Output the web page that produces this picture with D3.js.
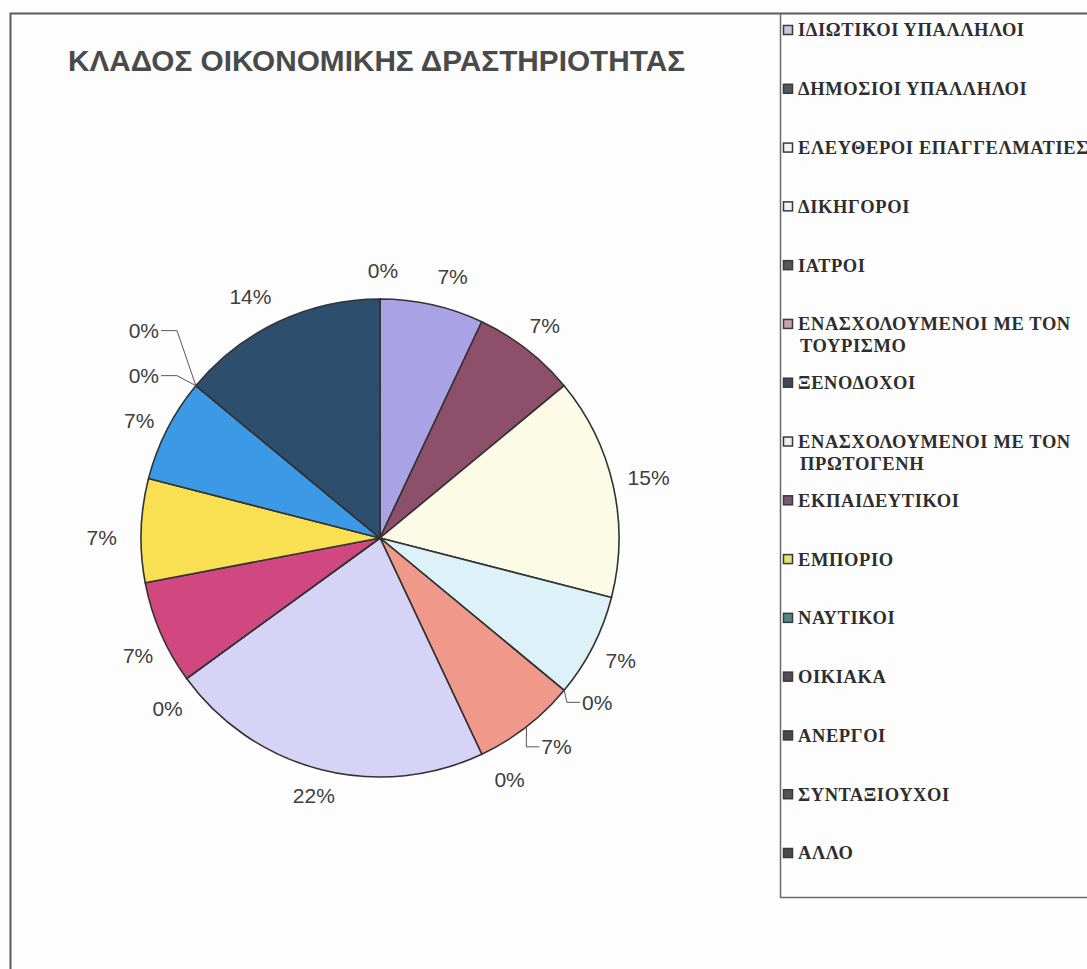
<!DOCTYPE html>
<html>
<head>
<meta charset="utf-8">
<script src="https://cdn.jsdelivr.net/npm/d3@7/dist/d3.min.js"></script>
<style>
  html, body { margin: 0; padding: 0; background: #fcfdfc; }
  svg { display: block; }
</style>
</head>
<body>
<svg id="chart" width="1087" height="969"></svg>
<script>
// Chart title
const title = "ΚΛΑΔΟΣ ΟΙΚΟΝΟΜΙΚΗΣ ΔΡΑΣΤΗΡΙΟΤΗΤΑΣ";

// Pie slices, clockwise from 12 o'clock (percent shares)
const sliceValues = [7, 7, 15, 7, 0, 7, 0, 22, 0, 7, 7, 7, 0, 0, 14, 0];
const sliceColors = [
  "#a9a3e6", "#8d4f69", "#fbfbe6", "#dcf2f8", "#6a3a6a", "#f0988a",
  "#2f6fc0", "#d6d4f6", "#1c2c6c", "#d0487f", "#f8e052", "#3c99e6",
  "#7a3a7a", "#7a2a2a", "#2e4e6e", "#3040c0"
];

// Legend entries and their swatch colours
const legendLabels = [
  ["ΙΔΙΩΤΙΚΟΙ ΥΠΑΛΛΗΛΟΙ"],
  ["ΔΗΜΟΣΙΟΙ ΥΠΑΛΛΗΛΟΙ"],
  ["ΕΛΕΥΘΕΡΟΙ ΕΠΑΓΓΕΛΜΑΤΙΕΣ"],
  ["ΔΙΚΗΓΟΡΟΙ"],
  ["ΙΑΤΡΟΙ"],
  ["ΕΝΑΣΧΟΛΟΥΜΕΝΟΙ ΜΕ ΤΟΝ", "ΤΟΥΡΙΣΜΟ"],
  ["ΞΕΝΟΔΟΧΟΙ"],
  ["ΕΝΑΣΧΟΛΟΥΜΕΝΟΙ ΜΕ ΤΟΝ", "ΠΡΩΤΟΓΕΝΗ"],
  ["ΕΚΠΑΙΔΕΥΤΙΚΟΙ"],
  ["ΕΜΠΟΡΙΟ"],
  ["ΝΑΥΤΙΚΟΙ"],
  ["ΟΙΚΙΑΚΑ"],
  ["ΑΝΕΡΓΟΙ"],
  ["ΣΥΝΤΑΞΙΟΥΧΟΙ"],
  ["ΑΛΛΟ"]
];
const legendSwatch = [
  "#c9c6de", "#55575e", "#f4f4ec", "#eef2f4", "#55555a", "#c9a0a8",
  "#3e4a5c", "#eeeef4", "#7a5870", "#e4e070", "#4a8a88", "#5a4a58",
  "#4a4a4e", "#56565a", "#4a4a50"
];

// Label placement tweaks: leader = offset of label from its arc point (with a leader line),
// nudge = small shift of an automatically placed label
const labelLayout = [
  { nudge: [15, -4] }, {}, {}, {}, { leader: [33, 12] }, { leader: [30, 20] },
  { nudge: [16, 0] }, {}, { nudge: [6, 12] }, { nudge: [6, 10] }, { nudge: [-10, 8] }, { nudge: [0, 5] },
  { leader: [-52, -55] }, { leader: [-52, -10] }, { nudge: [-15, 2] }, { nudge: [3, -6] }
];

const svg = d3.select("#chart");
const W = 1087, H = 969;

// frames
const frame = svg.append("g").attr("fill", "none");
frame.append("path")
  .attr("d", `M10.5,${H + 2} V13.5 H${W + 2}`)
  .attr("stroke", "#5a5a5a").attr("stroke-width", 2);
frame.append("path")
  .attr("d", `M780.5,14 V897.5 H${W + 2}`)
  .attr("stroke", "#6a6a6a").attr("stroke-width", 1.5);

// title
svg.append("text")
  .attr("x", 68).attr("y", 71)
  .attr("font-family", "'Liberation Sans', Arial, sans-serif")
  .attr("font-weight", "bold")
  .attr("font-size", 29)
  .attr("fill", "#4a4a4a")
  .attr("textLength", 617)
  .attr("lengthAdjust", "spacingAndGlyphs")
  .text(title);

// pie
const cx = 380, cy = 538, R = 239;
const pie = d3.pie().sort(null).value(d => d);
const arcs = pie(sliceValues);
const arc = d3.arc().innerRadius(0).outerRadius(R);

const g = svg.append("g").attr("transform", `translate(${cx},${cy})`);
g.selectAll("path.slice")
  .data(arcs)
  .join("path")
  .attr("class", "slice")
  .attr("d", arc)
  .attr("fill", (d, i) => sliceColors[i])
  .attr("stroke", "#333")
  .attr("stroke-width", 1.6)
  .attr("stroke-linejoin", "round");

// percentage labels
const fontSize = 21;
const measure = svg.append("text")
  .attr("font-family", "'Liberation Sans', Arial, sans-serif")
  .attr("font-size", fontSize)
  .attr("visibility", "hidden");

const labels = g.append("g")
  .attr("font-family", "'Liberation Sans', Arial, sans-serif")
  .attr("font-size", fontSize)
  .attr("fill", "#3e3e3e");

arcs.forEach((d, i) => {
  const txt = d3.format(".0f")(d.value) + "%";
  measure.text(txt);
  const w = measure.node().getComputedTextLength();
  const h = 16;
  const a = (d.startAngle + d.endAngle) / 2;
  const s = Math.sin(a), c = Math.cos(a);
  const lay = labelLayout[i] || {};
  let x, y;
  if (lay.leader) {
    const px = R * s, py = -R * c;
    x = px + lay.leader[0];
    y = py + lay.leader[1];
    const toLeft = lay.leader[0] < 0;
    const endX = toLeft ? x + w / 2 + 2 : x - w / 2 - 2;
    const kneeX = toLeft ? endX + 16 : endX - 13;
    labels.append("path")
      .attr("d", `M${px},${py} L${kneeX},${y} H${endX}`)
      .attr("fill", "none")
      .attr("stroke", "#555")
      .attr("stroke-width", 1);
  } else {
    const off = R + 14 + (w / 2) * Math.abs(s) + (h / 2) * Math.abs(c);
    x = off * s;
    y = -off * c;
    if (lay.nudge) { x += lay.nudge[0]; y += lay.nudge[1]; }
  }
  labels.append("text")
    .attr("x", x).attr("y", y)
    .attr("text-anchor", "middle")
    .attr("dy", "0.35em")
    .text(txt);
});
measure.remove();

// legend
const ly = d3.scaleLinear().domain([0, legendLabels.length - 1]).range([30, 853]);
const legend = svg.append("g")
  .attr("font-family", "'Liberation Serif', 'Times New Roman', serif")
  .attr("font-size", 18.5)
  .attr("font-weight", "bold")
  .attr("letter-spacing", 0.6)
  .attr("fill", "#2e2e2e");

legendLabels.forEach((lines, i) => {
  const y = ly(i);
  legend.append("rect")
    .attr("x", 783.5).attr("y", y - 4.5)
    .attr("width", 9).attr("height", 9)
    .attr("fill", legendSwatch[i])
    .attr("stroke", "#3a3a3a")
    .attr("stroke-width", 1.5);
  lines.forEach((line, k) => {
    legend.append("text")
      .attr("x", 798 + (k > 0 ? 2 : 0))
      .attr("y", y + k * 22)
      .attr("dy", "0.35em")
      .text(line);
  });
});
</script>
</body>
</html>
